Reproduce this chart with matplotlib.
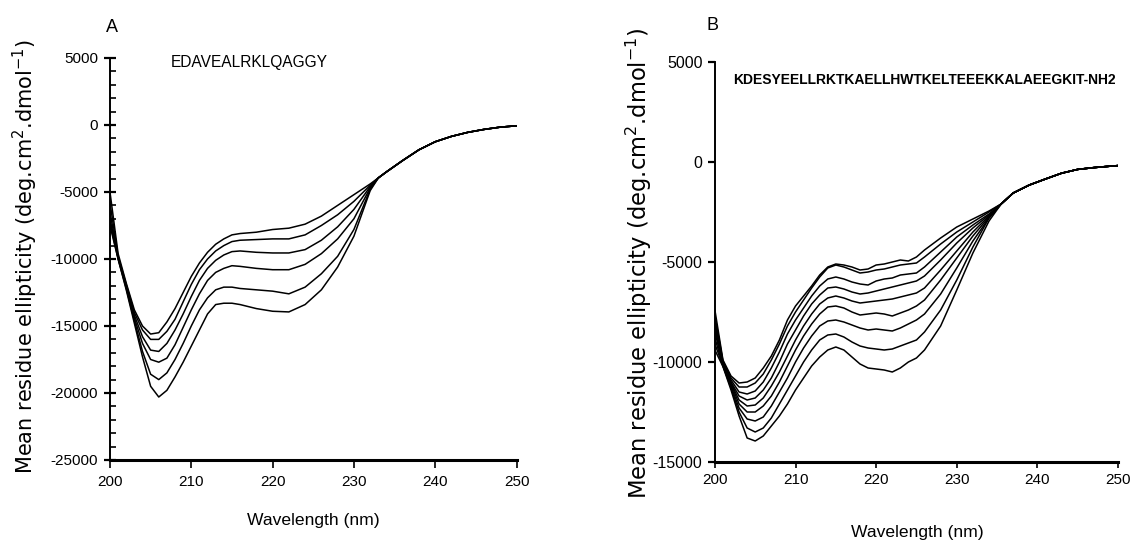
import matplotlib
matplotlib.use('Agg')
import matplotlib.pyplot as plt
from matplotlib.ticker import MultipleLocator

plt.rcParams['axes.unicode_minus'] = False

# ---- panel A data (EDAVEALRKLQAGGY), 6 spectra ----
wl_a_head = [200, 201, 202, 203, 204, 205, 206, 207, 208, 209, 210, 211, 212,
             213, 214, 215, 216, 218, 220, 222, 224, 226, 228, 230, 232]
wl_a_tail = [233, 234, 236, 238, 240, 242, 244, 246, 248, 250]
a_tail = [-3950, -3500, -2650, -1850, -1250, -850, -550, -330, -160, -60]

a1 = [-5000, -9600, -11800, -13800, -15000, -15600, -15500, -14700, -13700, -12500, -11300, -10300, -9500,
      -8900, -8500, -8200, -8100, -8000, -7800, -7700, -7400, -6800, -6000, -5200, -4400]
a2 = [-5800, -9800, -11900, -14000, -15300, -16000, -16000, -15400, -14500, -13200, -11900, -10800, -10000,
      -9400, -9000, -8700, -8600, -8550, -8500, -8500, -8200, -7500, -6700, -5700, -4500]
a3 = [-6500, -9900, -12000, -14200, -15800, -16800, -16900, -16300, -15300, -14100, -12800, -11600, -10700,
      -10100, -9700, -9450, -9400, -9500, -9550, -9550, -9300, -8600, -7600, -6300, -4600]
a4 = [-7000, -9900, -12100, -14400, -16300, -17500, -17700, -17400, -16400, -15100, -13800, -12600, -11600,
      -11000, -10700, -10500, -10550, -10700, -10800, -10800, -10400, -9600, -8500, -7000, -4700]
a5 = [-7300, -10000, -12200, -14600, -16900, -18600, -19000, -18500, -17500, -16300, -15000, -13800, -12900,
      -12300, -12100, -12100, -12200, -12300, -12400, -12600, -12100, -11100, -9800, -7800, -4800]
a6 = [-7500, -10000, -12300, -14800, -17300, -19500, -20300, -19800, -18800, -17700, -16500, -15300, -14100,
      -13400, -13300, -13300, -13400, -13700, -13900, -13950, -13400, -12300, -10600, -8300, -4900]

# ---- panel B data (KDESYEELLRKTKAELLHWTKELTEEEKKALAEEGKIT-NH2), 9 spectra ----
wl_b_head = [200, 201, 202, 203, 204, 205, 206, 207, 208, 209, 210, 211, 212, 213, 214, 215, 216, 217,
             218, 219, 220, 221, 222, 223, 224, 225, 226, 228, 230, 232, 234]
wl_b_tail = [235.5, 237, 239, 241, 243, 245, 247, 249, 250]
b_tail = [-2100, -1550, -1150, -850, -560, -370, -280, -210, -180]

b1 = [-7400, -9900, -10700, -11050, -11000, -10800, -10300, -9700, -8900, -7900, -7200, -6700, -6200, -5650,
      -5250, -5100, -5150, -5250, -5400, -5350, -5150, -5100, -5000, -4900, -4950, -4750, -4400, -3800,
      -3250, -2850, -2450]
b2 = [-7700, -9950, -10800, -11250, -11250, -11050, -10600, -9900, -9100, -8200, -7500, -6900, -6300, -5750,
      -5300, -5150, -5250, -5400, -5550, -5500, -5400, -5350, -5250, -5150, -5100, -5050, -4750, -4100,
      -3500, -3000, -2500]
b3 = [-7900, -10000, -10900, -11500, -11600, -11450, -11000, -10300, -9500, -8600, -7900, -7300, -6700,
      -6200, -5850, -5750, -5850, -6000, -6100, -6150, -5950, -5850, -5800, -5650, -5600, -5550, -5250,
      -4500, -3750, -3150, -2600]
b4 = [-8100, -10050, -11000, -11700, -11900, -11800, -11400, -10800, -10000, -9100, -8400, -7700, -7100,
      -6650, -6300, -6250, -6350, -6500, -6600, -6550, -6450, -6350, -6250, -6150, -6050, -5950, -5700,
      -4900, -4050, -3300, -2650]
b5 = [-8300, -10100, -11050, -11900, -12200, -12150, -11800, -11200, -10500, -9700, -8900, -8200, -7600,
      -7100, -6800, -6700, -6800, -6950, -7050, -7000, -6950, -6900, -6850, -6750, -6650, -6550, -6300,
      -5400, -4450, -3500, -2700]
b6 = [-8500, -10150, -11100, -12100, -12500, -12500, -12200, -11700, -11000, -10200, -9400, -8700, -8100,
      -7600, -7250, -7200, -7300, -7500, -7650, -7600, -7550, -7600, -7700, -7550, -7400, -7200, -6900,
      -5900, -4800, -3700, -2750]
b7 = [-8800, -10200, -11200, -12300, -12850, -12950, -12750, -12200, -11500, -10800, -10000, -9300, -8700,
      -8200, -7950, -7900, -8000, -8150, -8300, -8400, -8350, -8400, -8450, -8300, -8100, -7900, -7600,
      -6600, -5300, -3950, -2800]
b8 = [-9100, -10200, -11300, -12500, -13300, -13500, -13300, -12800, -12100, -11400, -10700, -10000, -9400,
      -8900, -8650, -8600, -8750, -9000, -9200, -9300, -9350, -9400, -9350, -9200, -9050, -8900, -8500,
      -7400, -5900, -4250, -2800]
b9 = [-9400, -10230, -11400, -12700, -13800, -13950, -13700, -13200, -12700, -12100, -11400, -10800, -10200,
      -9750, -9400, -9250, -9400, -9750, -10100, -10300, -10350, -10400, -10500, -10300, -10000, -9800, -9400,
      -8200, -6400, -4550, -2950]

xticks = [200, 210, 220, 230, 240, 250]
ylabel = 'Mean residue ellipticity (deg.cm$^2$.dmol$^{-1}$)'
sans = ['Liberation Sans', 'DejaVu Sans']

fig = plt.figure(figsize=(11.42, 5.42), dpi=100)
ax_a = fig.add_axes([0.0963, 0.1513, 0.356, 0.7417])
ax_b = fig.add_axes([0.626, 0.1476, 0.353, 0.738])

for y in [a1, a2, a3, a4, a5, a6]:
    ax_a.plot(wl_a_head + wl_a_tail, y + a_tail, color='black', lw=1.1)
for y in [b1, b2, b3, b4, b5, b6, b7, b8, b9]:
    ax_b.plot(wl_b_head + wl_b_tail, y + b_tail, color='black', lw=1.1)

ax_a.set_xlim(200, 250)
ax_a.set_ylim(-25000, 5000)
ax_b.set_xlim(200, 250)
ax_b.set_ylim(-15000, 5000)

for ax in [ax_a, ax_b]:
    ax.spines['top'].set_visible(False)
    ax.spines['right'].set_visible(False)
    ax.spines['left'].set_linewidth(1.4)
    ax.spines['bottom'].set_linewidth(2.2)
    ax.set_xticks(xticks)

ax_a.tick_params(axis='x', direction='out', length=6, width=1.2, pad=5, labelsize=11)
ax_b.tick_params(axis='x', direction='out', length=4, width=1.2, pad=4, labelsize=11)

ax_a.set_yticks(range(-25000, 5001, 5000))
ax_a.yaxis.set_minor_locator(MultipleLocator(1000))
ax_a.tick_params(axis='y', which='major', direction='inout', length=9, width=1.6, pad=4, labelsize=11)
ax_a.tick_params(axis='y', which='minor', direction='in', length=4, width=1.2)

ax_b.set_yticks(range(-15000, 5001, 5000))
ax_b.tick_params(axis='y', which='major', direction='out', length=5, width=1.6, pad=4, labelsize=11.5)

for ax in [ax_a, ax_b]:
    for lab in ax.get_xticklabels() + ax.get_yticklabels():
        lab.set_family(sans)

# panel letters, sequences, axis labels
fig.text(112 / 1142, 1 - 27 / 542, 'A', ha='center', va='center', fontsize=13, family=sans)
fig.text(713 / 1142, 1 - 25 / 542, 'B', ha='center', va='center', fontsize=13, family=sans)
fig.text(171 / 1142, 1 - 63 / 542, 'EDAVEALRKLQAGGY', ha='left', va='center', fontsize=11.2, family=sans)
fig.text(733 / 1142, 1 - 80 / 542, 'KDESYEELLRKTKAELLHWTKELTEEEKKALAEEGKIT-NH2', ha='left', va='center',
         fontsize=10, family=sans, fontweight='bold')

fig.text(313 / 1142, 1 - 521 / 542, 'Wavelength (nm)', ha='center', va='center', fontsize=12.6, family=sans)
fig.text(917 / 1142, 1 - 532 / 542, 'Wavelength (nm)', ha='center', va='center', fontsize=12.6, family=sans)
fig.text(25 / 1142, 1 - 256 / 542, ylabel, rotation=90, ha='center', va='center', fontsize=15, family='DejaVu Sans')
fig.text(639 / 1142, 1 - 263 / 542, ylabel, rotation=90, ha='center', va='center', fontsize=16.3, family='DejaVu Sans')

fig.savefig('out.png', dpi=100)
